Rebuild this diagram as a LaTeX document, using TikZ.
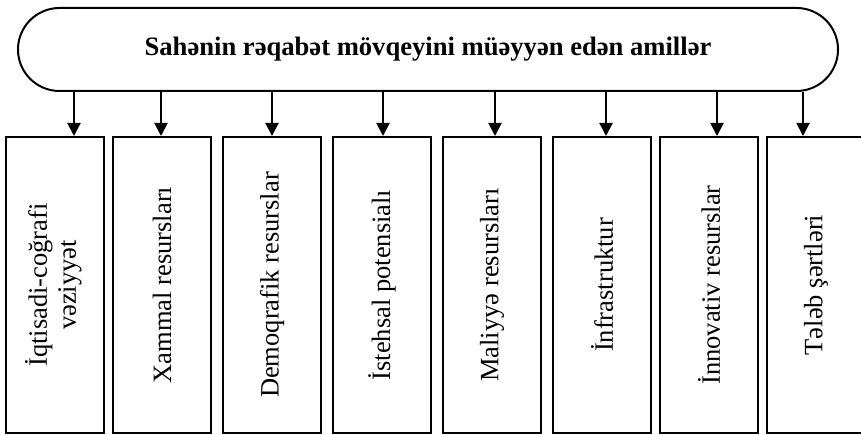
\documentclass[tikz,border=0pt]{standalone}
\usepackage{fontspec}
\setmainfont{Liberation Serif}
\usetikzlibrary{arrows.meta,shapes.misc}
\begin{document}
\begin{tikzpicture}[x=1pt,y=1pt,
  hdrbox/.style={draw, line width=2pt, rounded rectangle, minimum width=820pt, minimum height=83pt, inner sep=0pt, font=\fontsize{26.6}{30}\selectfont\bfseries},
  factbox/.style={draw, line width=2pt, minimum width=98pt, minimum height=296pt, inner sep=0pt, font=\fontsize{26.5}{30}\selectfont},
  arr/.style={line width=2pt, -{Triangle[width=13pt,length=13pt]}}]
\useasboundingbox (0,0) rectangle (861,435);
\node[hdrbox] (hdr) at (428,385.5) {Sahənin rəqabət mövqeyini müəyyən edən amillər};
\node[factbox] (b1) at (55,150) {\rotatebox{90}{\begin{tabular}{@{}c@{}}İqtisadi-coğrafi\\[-1pt]vəziyyət\end{tabular}}};
\node[factbox] (b2) at (162,150) {\rotatebox{90}{Xammal resursları}};
\node[factbox] (b3) at (272,150) {\rotatebox{90}{Demoqrafik resurslar}};
\node[factbox] (b4) at (382,150) {\rotatebox{90}{İstehsal potensialı}};
\node[factbox] (b5) at (492,150) {\rotatebox{90}{Maliyyə resursları}};
\node[factbox] (b6) at (602,150) {\rotatebox{90}{İnfrastruktur}};
\node[factbox] (b7) at (709,150) {\rotatebox{90}{İnnovativ resurslar}};
\node[factbox] (b8) at (816,150) {\rotatebox{90}{Tələb şərtləri}};
\foreach \i/\x in {1/74,2/161,3/272,4/383,5/495,6/606,7/717,8/803}{
  \coordinate (x\i) at (\x,0);
  \draw[arr] (hdr.south -| x\i) -- (b\i.north -| x\i);
}
\end{tikzpicture}
\end{document}
